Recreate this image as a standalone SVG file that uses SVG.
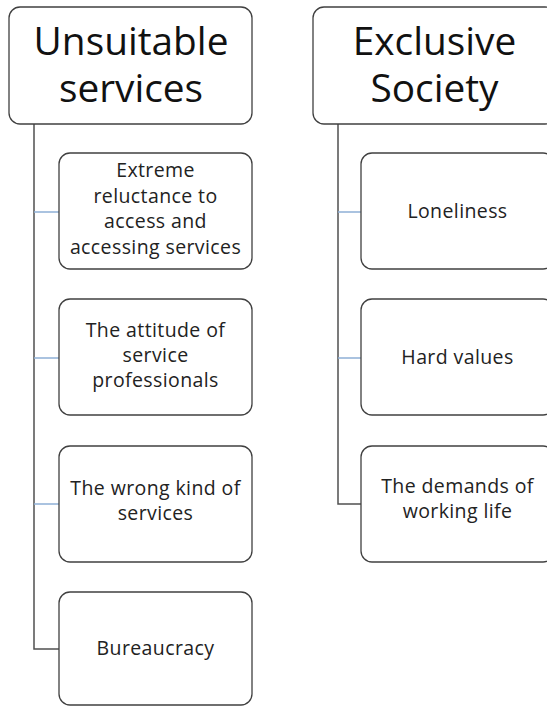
<svg xmlns="http://www.w3.org/2000/svg" width="547" height="706" viewBox="0 0 547 706">
<style>
.box{fill:#ffffff;stroke:#404040;stroke-width:1.3}
.hd{font-family:"Open Sans","Liberation Sans",sans-serif;font-size:38.8px;fill:#111111;text-anchor:middle}
.tx{font-family:"Open Sans","Liberation Sans",sans-serif;font-size:19.5px;letter-spacing:0.4px;fill:#222222;text-anchor:middle}
.trunk{stroke:#505050;stroke-width:1.5;fill:none}
.br{stroke:#8eb0d6;stroke-width:1.5;fill:none}
</style>
<rect width="547" height="706" fill="#ffffff"/>
<g id="connectors">
<path class="trunk" d="M34 124 V649 H59"/>
<path class="br" d="M34 212 H59 M34 358 H59 M34 504 H59"/>
<path class="trunk" d="M338 124 V504 H361"/>
<path class="br" d="M338 212 H361 M338 358 H361"/>
</g>
<g id="unsuitable-services">
<rect class="box" x="9" y="7" width="243" height="117" rx="11"/>
<text class="hd" x="131" y="55">Unsuitable</text>
<text class="hd" x="131" y="102">services</text>
</g>
<g id="extreme-reluctance">
<rect class="box" x="59" y="153" width="193" height="116" rx="11"/>
<text class="tx" x="155.5" y="177">Extreme</text>
<text class="tx" x="155.5" y="202.5">reluctance to</text>
<text class="tx" x="155.5" y="228">access and</text>
<text class="tx" x="155.5" y="253.5">accessing services</text>
</g>
<g id="attitude">
<rect class="box" x="59" y="299" width="193" height="116" rx="11"/>
<text class="tx" x="155.5" y="337">The attitude of</text>
<text class="tx" x="155.5" y="362">service</text>
<text class="tx" x="155.5" y="387">professionals</text>
</g>
<g id="wrong-kind">
<rect class="box" x="59" y="446" width="193" height="116" rx="11"/>
<text class="tx" x="155.5" y="495">The wrong kind of</text>
<text class="tx" x="155.5" y="520">services</text>
</g>
<g id="bureaucracy">
<rect class="box" x="59" y="592" width="193" height="113" rx="11"/>
<text class="tx" x="155.5" y="655">Bureaucracy</text>
</g>
<g id="exclusive-society">
<rect class="box" x="313" y="7" width="243" height="117" rx="11"/>
<text class="hd" x="434.5" y="55">Exclusive</text>
<text class="hd" x="434.5" y="102">Society</text>
</g>
<g id="loneliness">
<rect class="box" x="361" y="153" width="193" height="116" rx="11"/>
<text class="tx" x="457.5" y="218">Loneliness</text>
</g>
<g id="hard-values">
<rect class="box" x="361" y="299" width="193" height="116" rx="11"/>
<text class="tx" x="457.5" y="364">Hard values</text>
</g>
<g id="demands">
<rect class="box" x="361" y="446" width="193" height="116" rx="11"/>
<text class="tx" x="457.5" y="493">The demands of</text>
<text class="tx" x="457.5" y="518">working life</text>
</g>
</svg>
